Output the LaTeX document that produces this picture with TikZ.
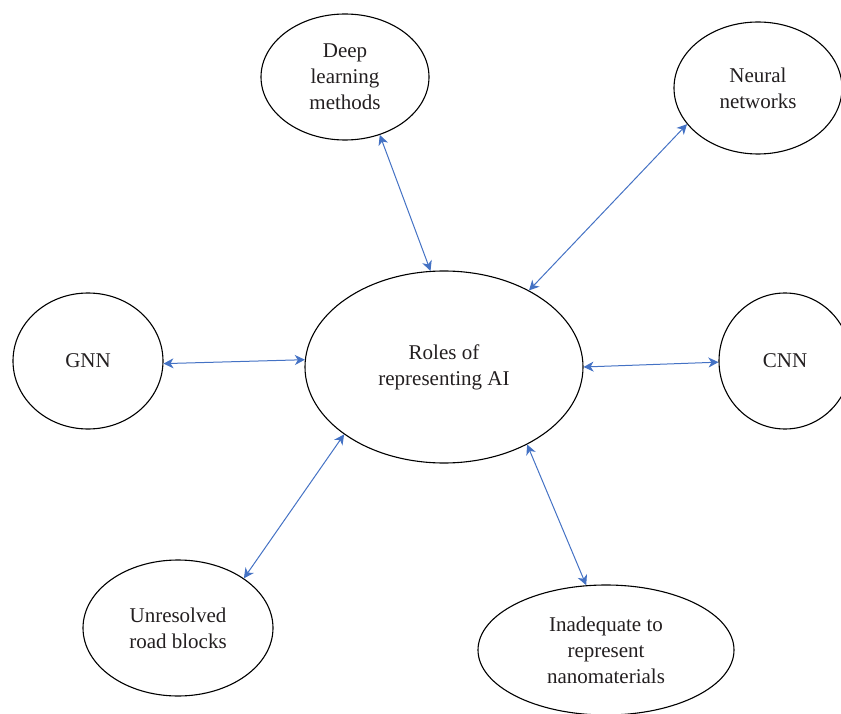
\documentclass[tikz,border=0pt]{standalone}
\usepackage{fontspec}
\setmainfont{Liberation Serif}
\usetikzlibrary{shapes.geometric,arrows.meta}
\definecolor{linkblue}{RGB}{68,114,196}
\definecolor{inkgray}{RGB}{35,31,32}
\tikzset{
  bubble/.style={ellipse, draw=black, line width=1.1pt, inner sep=0pt, align=center,
    text=inkgray, font=\fontsize{21}{26}\selectfont},
  link/.style={draw=linkblue, line width=1pt, {Stealth[length=10pt,width=10pt,inset=3pt]}-{Stealth[length=10pt,width=10pt,inset=3pt]}}
}
\begin{document}
\begin{tikzpicture}[x=1pt,y=-1pt]
\useasboundingbox (0,0) rectangle (841,714);
\node[bubble, minimum width=278pt, minimum height=192pt] (roles) at (444,367) {Roles of\\representing AI};
\node[bubble, minimum width=168pt, minimum height=126pt] (deep) at (345,77) {Deep\\learning\\methods};
\node[bubble, minimum width=168pt, minimum height=132pt] (neural) at (758,88) {Neural\\networks};
\node[bubble, minimum width=150pt, minimum height=136pt] (gnn) at (88,361) {GNN};
\node[bubble, minimum width=132pt, minimum height=136pt] (cnn) at (785,361) {CNN};
\node[bubble, minimum width=190pt, minimum height=136pt] (unres) at (178,628) {Unresolved\\road blocks};
\node[bubble, minimum width=256pt, minimum height=130pt] (inad) at (606,650) {Inadequate to\\represent\\nanomaterials};
\draw[link] (deep.301) -- (roles.98.6);
\draw[link] (neural.207) -- (roles.42.6);
\draw[link] (gnn.358.5) -- (roles.177.5);
\draw[link] (cnn.181.7) -- (roles.0);
\draw[link] (unres.37.7) -- (roles.214.7);
\draw[link] (inad.107.9) -- (roles.317.8);
\end{tikzpicture}
\end{document}
